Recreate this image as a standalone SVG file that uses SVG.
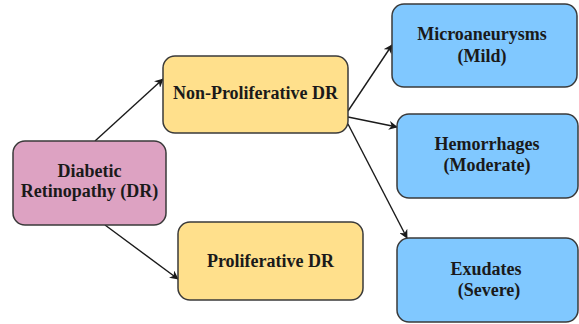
<svg xmlns="http://www.w3.org/2000/svg" width="579" height="324" viewBox="0 0 579 324">
<defs>
<style>
.box{stroke:#3a3a3a;stroke-width:1.5}
.pink{fill:#DDA2C2}
.yel{fill:#FFE08C}
.blue{fill:#80C8FF}
.t{font-family:"Liberation Serif","Times New Roman",serif;font-weight:bold;font-size:18px;fill:#1a1a1a;text-anchor:middle}
.c{stroke:#1a1a1a;stroke-width:1.4;fill:none;marker-end:url(#ah)}
</style>
<marker id="ah" viewBox="0 0 10 10" refX="9" refY="5" markerWidth="9" markerHeight="9" markerUnits="userSpaceOnUse" orient="auto">
<path d="M0,0 L10,5 L0,10 L3,5 Z" fill="#1a1a1a"/>
</marker>
</defs>
<rect width="579" height="324" fill="#ffffff"/>
<g id="connectors">
<line class="c" x1="95" y1="141" x2="163" y2="79"/>
<line class="c" x1="105" y1="225" x2="178" y2="279"/>
<line class="c" x1="348" y1="111" x2="392" y2="45"/>
<line class="c" x1="348" y1="117" x2="397" y2="127"/>
<line class="c" x1="348" y1="124" x2="407" y2="238"/>
</g>
<g id="dr">
<rect class="box pink" x="13" y="141" width="153" height="84" rx="12"/>
<text class="t" x="89.5" y="177">Diabetic</text>
<text class="t" x="89.5" y="197">Retinopathy (DR)</text>
</g>
<g id="npdr">
<rect class="box yel" x="163" y="56" width="185" height="77" rx="12"/>
<text class="t" x="255.5" y="99">Non-Proliferative DR</text>
</g>
<g id="pdr">
<rect class="box yel" x="178" y="222" width="185" height="78" rx="12"/>
<text class="t" x="270.5" y="267">Proliferative DR</text>
</g>
<g id="micro">
<rect class="box blue" x="392" y="4" width="185" height="83" rx="12"/>
<text class="t" x="482" y="40">Microaneurysms</text>
<text class="t" x="482" y="62">(Mild)</text>
</g>
<g id="hem">
<rect class="box blue" x="397" y="114" width="181" height="84" rx="12"/>
<text class="t" x="487" y="150">Hemorrhages</text>
<text class="t" x="487" y="171">(Moderate)</text>
</g>
<g id="exu">
<rect class="box blue" x="397" y="238" width="181" height="84" rx="12"/>
<text class="t" x="486" y="275">Exudates</text>
<text class="t" x="489" y="296">(Severe)</text>
</g>
</svg>
